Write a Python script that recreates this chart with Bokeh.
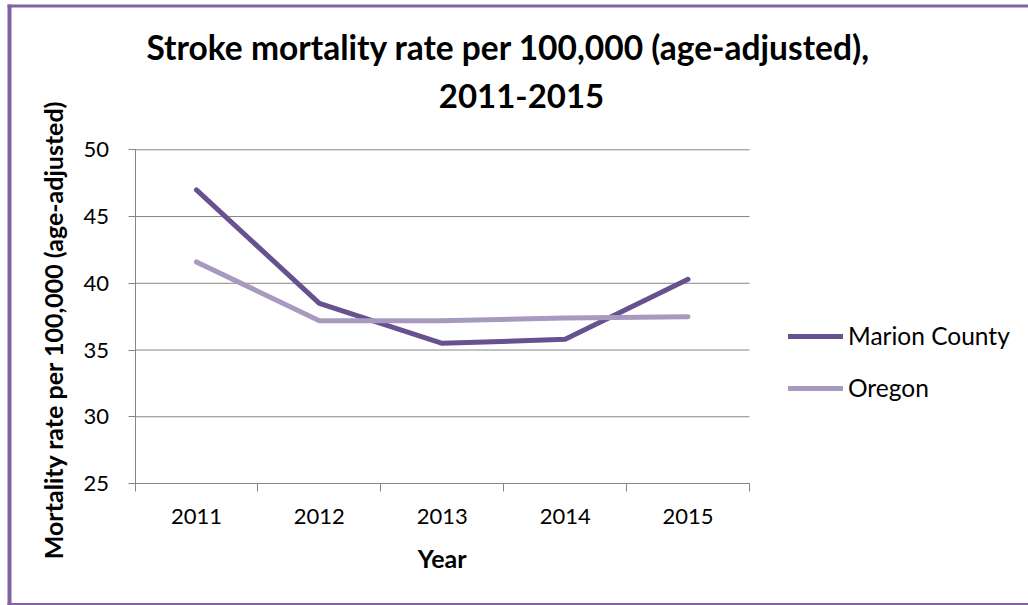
import math
from bokeh.plotting import figure
from bokeh.models import FixedTicker, Range1d, Legend, LegendItem, Label, BoxAnnotation
from bokeh.embed import file_html
from bokeh.resources import INLINE

# ---- data ----
years = ["2011", "2012", "2013", "2014", "2015"]
marion = [47.0, 38.5, 35.5, 35.8, 40.3]
oregon = [41.6, 37.2, 37.2, 37.4, 37.5]
series_names = ["Marion County", "Oregon"]
y_ticks = [25, 30, 35, 40, 45, 50]
title_lines = ["Stroke mortality rate per 100,000 (age-adjusted),", "2011-2015"]
y_label = "Mortality rate per 100,000 (age-adjusted)"
x_label = "Year"

FONT = "Lato"
GRAY = "#868686"
C_MARION = "#67518E"
C_OREGON = "#A899C1"
BORDER = "#8064A2"

# ---- layout (pixels) ----
W, H = 1028, 605
PL, PR, PT, PB = 134.5, 749.0, 149.3, 483.0   # plot area edges on the canvas

xs = list(range(1, len(years) + 1))
x_lo, x_hi = 0.5, len(years) + 0.5
y_lo, y_hi = y_ticks[0], y_ticks[-1]
kx = (x_hi - x_lo) / (PR - PL)
ky = (y_hi - y_lo) / (PB - PT)

# the frame covers the whole canvas; the plot area is placed through the ranges
p = figure(width=W, height=H, output_backend="svg", toolbar_location=None, title=None,
           x_range=Range1d(x_lo - PL * kx, x_hi + (W - PR) * kx),
           y_range=Range1d(y_lo - (H - PB) * ky, y_hi + PT * ky),
           min_border=0)
p.outline_line_color = None
p.background_fill_color = "white"
p.border_fill_color = "white"
p.xgrid.visible = False
p.ygrid.visible = False

# horizontal gridlines across the plot area
p.segment(x0=[x_lo] * len(y_ticks), x1=[x_hi] * len(y_ticks), y0=y_ticks, y1=y_ticks,
          line_color=GRAY, line_width=1)

r1 = p.line(xs, marion, line_color=C_MARION, line_width=5, line_cap="round", line_join="round")
r2 = p.line(xs, oregon, line_color=C_OREGON, line_width=5, line_cap="round", line_join="round")

# x axis
xa = p.xaxis[0]
xa.fixed_location = y_lo
xa.bounds = (x_lo, x_hi)
xa.ticker = FixedTicker(ticks=xs, minor_ticks=[i + 0.5 for i in range(0, len(years) + 1)])
xa.major_label_overrides = {x: y for x, y in zip(xs, years)}
xa.major_tick_out = 0
xa.major_tick_in = 0
xa.minor_tick_out = 8
xa.minor_tick_in = 0
xa.minor_tick_line_color = GRAY
xa.axis_line_color = GRAY
xa.major_label_text_font = FONT
xa.major_label_text_font_size = "22px"
xa.major_label_text_color = "black"
xa.major_label_standoff = 17

# y axis
ya = p.yaxis[0]
ya.fixed_location = x_lo
ya.bounds = (y_lo, y_hi)
ya.ticker = FixedTicker(ticks=y_ticks, minor_ticks=[])
ya.major_tick_out = 7
ya.major_tick_in = 0
ya.major_tick_line_color = GRAY
ya.axis_line_color = GRAY
ya.major_label_text_font = FONT
ya.major_label_text_font_size = "22px"
ya.major_label_text_color = "black"
ya.major_label_standoff = 19

# axis titles
p.add_layout(Label(x=441.7, y=H - 557, x_units="screen", y_units="screen", text=x_label,
                   text_align="center", text_baseline="alphabetic", text_font=FONT,
                   text_font_style="bold", text_font_size="25px", text_color="black"))
p.add_layout(Label(x=52, y=H - 329.3, x_units="screen", y_units="screen", text=y_label,
                   angle=math.pi / 2, text_align="center", text_baseline="middle",
                   text_font=FONT, text_font_style="bold", text_font_size="25px",
                   text_color="black"))

# chart title (two lines)
p.add_layout(Label(x=508, y=H - 46.5, x_units="screen", y_units="screen", text=title_lines[0],
                   text_align="center", text_baseline="alphabetic", text_font=FONT,
                   text_font_style="bold", text_font_size="33.5px", text_color="black"))
p.add_layout(Label(x=521, y=H - 95, x_units="screen", y_units="screen", text=title_lines[1],
                   text_align="center", text_baseline="alphabetic", text_font=FONT,
                   text_font_style="bold", text_font_size="33px", text_color="black"))

# legend, right of the plot area
legend = Legend(items=[LegendItem(label=series_names[0], renderers=[r1]),
                       LegendItem(label=series_names[1], renderers=[r2])],
                location=(788, H - 402), padding=0, margin=0, spacing=23,
                glyph_width=55, glyph_height=26, label_height=26, label_standoff=5,
                label_text_font=FONT, label_text_font_size="24.5px", label_text_color="black",
                border_line_color=None, background_fill_alpha=0)
p.add_layout(legend)

# outer chart border: left, top and bottom strips (the reference crop has no right edge)
strip = dict(left_units="screen", right_units="screen", top_units="screen",
             bottom_units="screen", fill_color=BORDER, fill_alpha=1.0, line_color=None)
p.add_layout(BoxAnnotation(left=7, right=11, top=H - 4, bottom=H - 605, **strip))
p.add_layout(BoxAnnotation(left=7, right=W, top=H - 4, bottom=H - 7, **strip))
p.add_layout(BoxAnnotation(left=7, right=W, top=H - 602.5, bottom=H - 605, **strip))

open("out.html", "w").write(file_html(p, INLINE))
